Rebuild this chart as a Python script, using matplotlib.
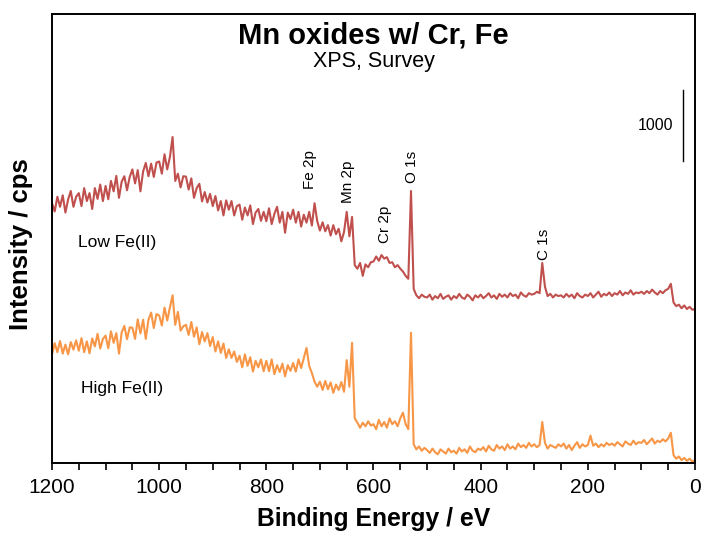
import numpy as np
import matplotlib
matplotlib.use("Agg")
import matplotlib.pyplot as plt
from matplotlib.ticker import MultipleLocator

plt.rcParams['font.family'] = ['Liberation Sans', 'DejaVu Sans']

# Binding energy grid (eV), 1200 -> 0 in 5 eV steps
energy = np.arange(1200, -1, -5)

# Intensity (cps), Low Fe(II)
low_fe = [
    3610, 3495, 3700, 3560, 3720, 3480, 3660, 3780, 3560, 3700,   # 1200-1155
    3750, 3570, 3820, 3640, 3750, 3530, 3820, 3670, 3870, 3640,   # 1150-1105
    3850, 3665, 3920, 3775, 3990, 3685, 3910, 3985, 3790, 3975,   # 1100-1055
    4080, 3885, 4070, 3775, 4050, 4170, 3985, 4160, 3975, 4175,   # 1050-1005
    4190, 4020, 4290, 4080, 4250, 4530, 3920, 4020, 3830, 3985,   # 1000-955
    3980, 3800, 3955, 3685, 3820, 3880, 3635, 3765, 3620, 3740,   # 950-905
    3570, 3710, 3510, 3640, 3440, 3650, 3520, 3640, 3440, 3570,   # 900-855
    3590, 3380, 3550, 3440, 3580, 3320, 3480, 3530, 3365, 3490,   # 850-805
    3360, 3540, 3320, 3460, 3560, 3340, 3490, 3200, 3480, 3390,   # 800-755
    3520, 3340, 3490, 3285, 3450, 3340, 3490, 3300, 3610, 3360,   # 750-705
    3230, 3345, 3220, 3305, 3160, 3305, 3180, 3255, 3080, 3210,   # 700-655
    3490, 3150, 3420, 2750, 2700, 2780, 2600, 2760, 2720, 2790,   # 650-605
    2800, 2870, 2810, 2890, 2840, 2860, 2780, 2790, 2720, 2750,   # 600-555
    2700, 2660, 2600, 2560, 3780, 2420, 2330, 2290, 2340, 2310,   # 550-505
    2300, 2340, 2270, 2320, 2290, 2350, 2280, 2310, 2330, 2270,   # 500-455
    2320, 2290, 2350, 2300, 2280, 2340, 2310, 2260, 2330, 2300,   # 450-405
    2340, 2290, 2320, 2360, 2300, 2330, 2280, 2350, 2310, 2340,   # 400-355
    2300, 2360, 2320, 2340, 2290, 2370, 2330, 2310, 2360, 2340,   # 350-305
    2350, 2380, 2360, 2780, 2450, 2320, 2350, 2300, 2340, 2320,   # 300-255
    2330, 2300, 2350, 2310, 2340, 2290, 2360, 2320, 2300, 2340,   # 250-205
    2320, 2360, 2300, 2340, 2380, 2310, 2350, 2330, 2370, 2320,   # 200-155
    2360, 2340, 2390, 2330, 2370, 2350, 2400, 2340, 2370, 2360,   # 150-105
    2380, 2350, 2390, 2360, 2410, 2370, 2340, 2390, 2360, 2400,   # 100-55
    2420, 2490, 2230, 2180, 2200, 2150, 2190, 2140, 2170, 2130,   # 50-5
    2140,                                                         # 0
]

# Intensity (cps), High Fe(II)
high_fe = [
    1510, 1665, 1540, 1695, 1520, 1645, 1510, 1680, 1575, 1705,   # 1200-1155
    1560, 1735, 1540, 1690, 1525, 1730, 1620, 1795, 1590, 1725,   # 1150-1105
    1770, 1595, 1830, 1670, 1805, 1520, 1815, 1905, 1720, 1885,   # 1100-1055
    1880, 1725, 1995, 1800, 1990, 1725, 1990, 2090, 1875, 2070,   # 1050-1005
    2050, 1910, 2160, 1980, 2160, 2330, 1920, 2100, 1840, 1900,   # 1000-955
    1920, 1780, 1960, 1755, 1885, 1650, 1820, 1690, 1805, 1625,   # 950-905
    1750, 1550, 1690, 1530, 1660, 1460, 1580, 1460, 1550, 1405,   # 900-855
    1490, 1330, 1510, 1350, 1470, 1270, 1420, 1330, 1440, 1275,   # 850-805
    1420, 1275, 1440, 1235, 1360, 1265, 1380, 1205, 1360, 1280,   # 800-755
    1390, 1270, 1440, 1320, 1460, 1600, 1350, 1250, 1130, 1060,   # 750-705
    1130, 1015, 1140, 1025, 1120, 975, 1090, 1015, 1125, 990,     # 700-655
    1430, 1060, 1670, 620, 560, 490, 560, 510, 580, 520,          # 650-605
    540, 470, 600, 510, 570, 490, 620, 540, 580, 510,             # 600-555
    620, 700, 540, 470, 1810, 260, 190, 230, 170, 210,            # 550-505
    180, 140, 200, 150, 120, 190, 160, 130, 200, 150,             # 500-455
    170, 130, 210, 160, 190, 140, 230, 170, 150, 200,             # 450-405
    180, 220, 160, 240, 190, 170, 250, 200, 230, 180,             # 400-355
    260, 200, 230, 190, 270, 220, 250, 210, 280, 230,             # 350-305
    260, 220, 250, 570, 280, 200, 250, 230, 210, 260,             # 300-255
    230, 270, 200, 250, 180, 240, 290, 210, 260, 230,             # 250-205
    250, 380, 240, 270, 220, 260, 230, 280, 250, 270,             # 200-155
    240, 290, 260, 230, 300, 270, 250, 310, 260, 290,             # 150-105
    280, 320, 260, 300, 340, 270, 310, 290, 330, 300,             # 100-55
    340, 420, 110, 60, 90, 40, 70, 30, 60, 20,                    # 50-5
    40,                                                           # 0
]

series_names = ["Low Fe(II)", "High Fe(II)"]
peak_labels = ["Fe 2p", "Mn 2p", "Cr 2p", "O 1s", "C 1s"]
peak_energy = [718, 647, 579, 529, 282]
peak_label_y = [3810, 3610, 3060, 3890, 2820]
scale_bar_cps = 1000

fig = plt.figure(figsize=(7.01, 5.37), dpi=100)
ax = fig.add_axes([0.0742, 0.1378, 0.9172, 0.8362])

ax.plot(energy, low_fe, color='#C0504D', lw=1.5)
ax.plot(energy, high_fe, color='#F79646', lw=1.5)

ax.set_xlim(1200, 0)
ax.set_ylim(0, 6240)
ax.set_yticks([])
ax.xaxis.set_major_locator(MultipleLocator(200))
ax.xaxis.set_minor_locator(MultipleLocator(50))
ax.tick_params(axis='x', which='both', direction='out', length=5, width=1.2)
ax.tick_params(axis='x', which='major', labelsize=15, pad=6)
for s in ax.spines.values():
    s.set_linewidth(1.4)

ax.set_xlabel("Binding Energy / eV", fontsize=17.8, fontweight='bold', labelpad=7)
ax.set_ylabel("Intensity / cps", fontsize=18.5, fontweight='bold')
ax.yaxis.set_label_coords(-0.03, 0.488)

ax.text(0.5, 0.9347, "Mn oxides w/ Cr, Fe", transform=ax.transAxes, ha='center', va='baseline',
        fontsize=21, fontweight='bold')
ax.text(0.5, 0.8826, "XPS, Survey", transform=ax.transAxes, ha='center', va='baseline', fontsize=15.5)

for lab, e, y in zip(peak_labels, peak_energy, peak_label_y):
    ax.text(e, y, lab, rotation=90, ha='center', va='bottom', fontsize=11)

ax.text(1151, 3060, series_names[0], ha='left', va='center', fontsize=12.5)
ax.text(1145, 1040, series_names[1], ha='left', va='center', fontsize=12.5)

# scale bar
ax.plot([23, 23], [4190, 4190 + scale_bar_cps], color='black', lw=1.0)
ax.text(40, 4190 + scale_bar_cps / 2, str(scale_bar_cps), ha='right', va='center', fontsize=11.5)

fig.savefig("out.png", dpi=100)
